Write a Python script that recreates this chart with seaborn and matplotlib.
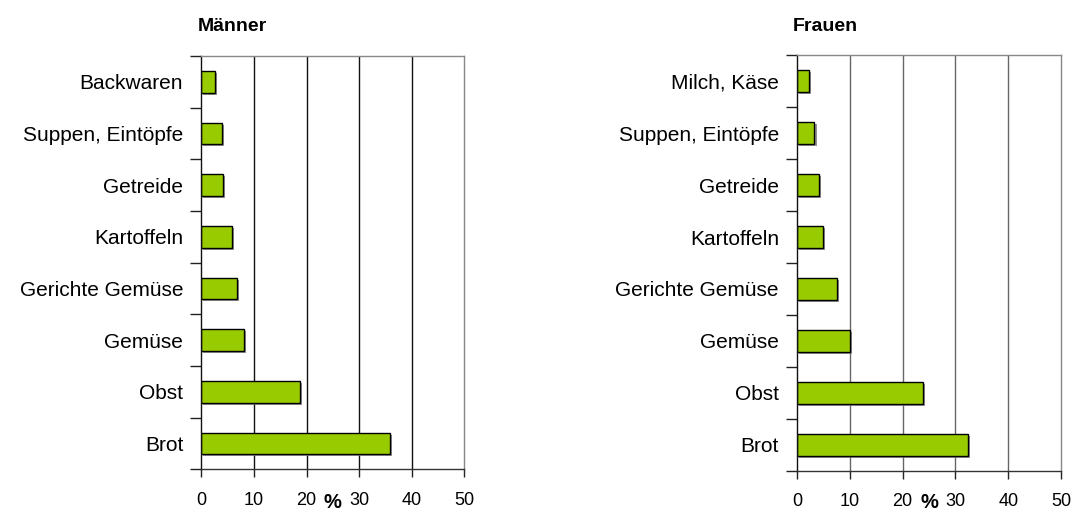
import matplotlib
matplotlib.use("Agg")
import matplotlib.pyplot as plt
import matplotlib.patheffects as pe
from matplotlib.ticker import FixedLocator
import pandas as pd
import seaborn as sns

# Anteile (%) nach Lebensmittelgruppe, von oben nach unten
maenner_kategorien = ["Backwaren", "Suppen, Eintöpfe", "Getreide", "Kartoffeln",
                      "Gerichte Gemüse", "Gemüse", "Obst", "Brot"]
maenner_werte = [2.6, 3.9, 4.2, 5.9, 6.8, 8.1, 18.8, 35.9]

frauen_kategorien = ["Milch, Käse", "Suppen, Eintöpfe", "Getreide", "Kartoffeln",
                     "Gerichte Gemüse", "Gemüse", "Obst", "Brot"]
frauen_werte = [2.3, 3.3, 4.1, 5.0, 7.6, 10.0, 23.8, 32.3]

x_ticks = [0, 10, 20, 30, 40, 50]

sns.set_style("white")
plt.rcParams["font.family"] = ["Liberation Sans", "DejaVu Sans"]
plt.rcParams["text.color"] = "black"
plt.rcParams["xtick.color"] = "black"
plt.rcParams["ytick.color"] = "black"

fig = plt.figure(figsize=(10.74, 5.12), dpi=100)
W, H = 1074, 512


def panel(left_px, right_px, top_px, bottom_px, kategorien, werte, titel, grid_color):
    ax = fig.add_axes([left_px / W, 1 - bottom_px / H,
                       (right_px - left_px) / W, (bottom_px - top_px) / H])
    df = pd.DataFrame({"Kategorie": kategorien, "Anteil": werte})
    sns.barplot(data=df, x="Anteil", y="Kategorie", orient="h", ax=ax,
                color="#99CC00", saturation=1, width=0.42,
                edgecolor="black", linewidth=1.0)
    for p in ax.patches:
        p.set_path_effects([pe.SimplePatchShadow(offset=(1.5, -1.5),
                                                 shadow_rgbFace="#777777", alpha=0.8),
                            pe.Normal()])
    n = len(kategorien)
    ax.set_xlim(0, 50)
    ax.set_ylim(n - 0.5, -0.5)
    ax.set_xticks(x_ticks)
    ax.set_xticklabels([str(t) for t in x_ticks], fontsize=13)
    ax.tick_params(axis="x", direction="out", length=6, width=1, color="#222222",
                   pad=10, bottom=True, labelcolor="black")
    # Kategorien-Beschriftung, Striche an den Grenzen zwischen den Balken
    ax.yaxis.set_minor_locator(FixedLocator([i - 0.5 for i in range(n + 1)]))
    ax.tick_params(axis="y", which="major", length=0, pad=13, labelsize=15,
                   labelcolor="black")
    ax.tick_params(axis="y", which="minor", direction="out", length=8, width=1,
                   color="#222222", left=True)
    ax.set_xlabel("")
    ax.set_ylabel("")
    for x in x_ticks[1:-1]:
        ax.axvline(x, color=grid_color, linewidth=1.0, zorder=0)
    ax.spines["left"].set_color("#111111")
    ax.spines["bottom"].set_color("#333333")
    ax.spines["top"].set_color("#888888")
    ax.spines["right"].set_color("#888888")
    for s in ax.spines.values():
        s.set_linewidth(1.0)
    fig.text((left_px + 0.5 * (right_px - left_px)) / W, 1 - 508 / H, "%",
             ha="center", va="baseline", fontsize=14.5, fontweight="bold")
    fig.text((left_px - 4) / W, 1 - 31 / H, titel, ha="left", va="baseline",
             fontsize=14, fontweight="bold")
    return ax


panel(201.3, 464.3, 56, 469.3, maenner_kategorien, maenner_werte, "Männer", "#111111")
panel(797, 1061, 55.3, 470.7, frauen_kategorien, frauen_werte, "Frauen", "#666666")

fig.savefig("out.png", dpi=100)
